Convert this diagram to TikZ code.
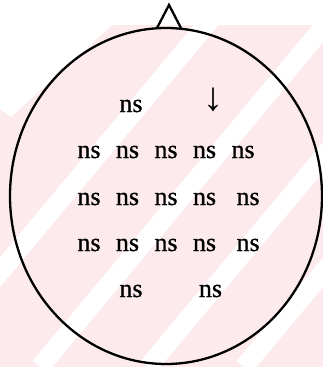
\documentclass[tikz,border=0pt]{standalone}
\usepackage{fontspec}
\setmainfont{Liberation Serif}
\newfontfamily\elecfont[FakeBold=0.8]{Liberation Serif}
\usepackage{xcolor}
\usepackage{tikz}
\usetikzlibrary{positioning}
\definecolor{Wpink}{HTML}{FCEAED}

\begin{document}
\begin{tikzpicture}[
  x=1pt, y=-1pt, node distance=15pt,
  elec/.style  ={inner sep=0pt, font=\elecfont\fontsize{26}{30}\selectfont},
  arrowmark/.style={inner sep=0pt, font=\fontsize{40}{44}\selectfont},
  stripe/.style={white, line width=19pt},
  head/.style  ={draw=black, line width=2.3pt},
]
\useasboundingbox (0,0) rectangle (323,367);

% ── pink watermark with white stripes ────────────────────────────────
\begin{scope}
  \clip (0,25) rectangle (323,367);
  \fill[Wpink] (0,25) rectangle (323,367);
  \fill[white] (0,25) -- (112,25) -- (11,117) -- (0,109) -- cycle;
  \draw[stripe] (227,0) -- (-79,367);
  \draw[stripe] (346,0) -- (40,367);
  \draw[stripe] (454,0) -- (148,367);
  \draw[stripe] (550,0) -- (244,367);
\end{scope}

% ── head outline + nose ──────────────────────────────────────────────
\draw[head] (166,196) ellipse [x radius=156, y radius=168];
\draw[head, line join=miter] (157,28) -- (169,5) -- (181,28);

% ── frontal pole ─────────────────────────────────────────────────────
\node[elec] (fp1) at (131,106) {ns};
\node[arrowmark] (fp2) at (213,100) {↓};

% ── frontal row ──────────────────────────────────────────────────────
\node[elec] (f7) at (89,152) {ns};
\node[elec, right=of f7] (f3) {ns};
\node[elec, right=of f3] (fz) {ns};
\node[elec, right=of fz] (f4) {ns};
\node[elec, right=of f4] (f8) {ns};

% ── central row ──────────────────────────────────────────────────────
\node[elec] (t3) at (89,199) {ns};
\node[elec, right=of t3] (c3) {ns};
\node[elec, right=of c3] (cz) {ns};
\node[elec, right=of cz] (c4) {ns};
\node[elec, right=20pt of c4] (t4) {ns};

% ── parietal row ─────────────────────────────────────────────────────
\node[elec] (t5) at (89,245) {ns};
\node[elec, right=of t5] (p3) {ns};
\node[elec, right=of p3] (pz) {ns};
\node[elec, right=of pz] (p4) {ns};
\node[elec, right=20pt of p4] (t6) {ns};

% ── occipital ────────────────────────────────────────────────────────
\node[elec] (o1) at (131,291) {ns};
\node[elec, right=56pt of o1] (o2) {ns};

\end{tikzpicture}
\end{document}
